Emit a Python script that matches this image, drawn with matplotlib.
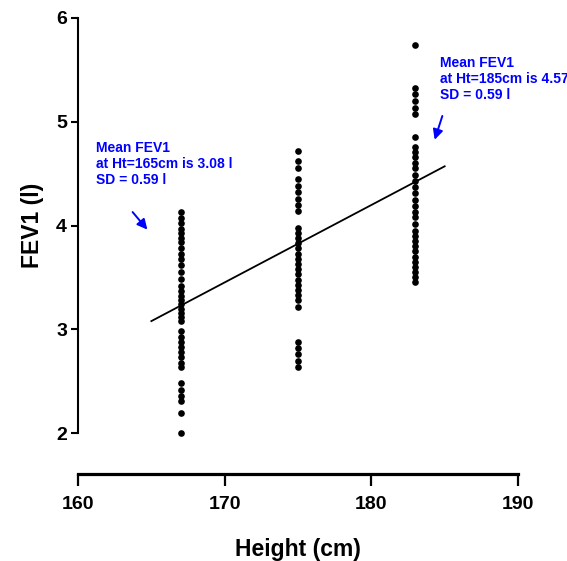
import matplotlib.pyplot as plt

plt.rcParams['font.family'] = ['Liberation Sans', 'DejaVu Sans']
plt.rcParams['font.weight'] = 'bold'

# heights of the three groups
heights = [167, 175, 183]

# FEV1 readings (l) per height group
fev_167 = [4.13, 4.07, 4.02, 3.97, 3.93, 3.88, 3.84, 3.78, 3.73, 3.68, 3.62, 3.55,
           3.49, 3.42, 3.37, 3.32, 3.28, 3.24, 3.20, 3.16, 3.12, 3.08, 2.98, 2.93,
           2.88, 2.83, 2.78, 2.73, 2.68, 2.64, 2.48, 2.42, 2.36, 2.31, 2.20, 2.00]
fev_175 = [4.72, 4.62, 4.55, 4.45, 4.38, 4.32, 4.26, 4.20, 4.14, 3.98, 3.93, 3.88,
           3.83, 3.78, 3.73, 3.68, 3.63, 3.58, 3.53, 3.48, 3.43, 3.38, 3.33, 3.28,
           3.22, 2.88, 2.82, 2.76, 2.70, 2.64]
fev_183 = [5.74, 5.32, 5.27, 5.20, 5.13, 5.07, 4.85, 4.76, 4.71, 4.66, 4.60, 4.55,
           4.49, 4.43, 4.37, 4.31, 4.25, 4.19, 4.13, 4.08, 4.01, 3.95, 3.90, 3.85,
           3.80, 3.75, 3.70, 3.65, 3.60, 3.55, 3.50, 3.46]
groups = [fev_167, fev_175, fev_183]

# regression line end points
line_x = [165, 185]
line_y = [3.08, 4.57]

x_ticks = [160, 170, 180, 190]
y_ticks = [2, 3, 4, 5, 6]

fig = plt.figure(figsize=(5.67, 5.61), dpi=100)
ax = fig.add_axes([0.1376, 0.2276, 0.776, 0.7408])

for h, vals in zip(heights, groups):
    ax.plot([h] * len(vals), vals, linestyle='none', marker='o', ms=4.8,
            color='black', markeredgewidth=0, clip_on=False)

ax.plot(line_x, line_y, color='black', lw=1.3)

ax.set_xlim(160, 190)
ax.set_ylim(2, 6)
ax.set_xticks(x_ticks)
ax.set_yticks(y_ticks)

# prism style axes
ax.spines['top'].set_visible(False)
ax.spines['right'].set_visible(False)
ax.spines['left'].set_linewidth(1.5)
ax.spines['bottom'].set_linewidth(2.3)
ax.spines['bottom'].set_position(('outward', 29.3))
ax.tick_params(axis='x', length=8.5, width=1.6, pad=7, labelsize=14)
ax.tick_params(axis='y', length=5, width=1.5, pad=3, labelsize=14)

ax.set_xlabel('Height (cm)', fontsize=16.5, fontweight='bold', labelpad=18)
ax.set_ylabel('FEV1 (l)', fontsize=16.5, fontweight='bold', labelpad=9)

# annotations
ax.text(161.24, 4.81, 'Mean FEV1\nat Ht=165cm is 3.08 l\nSD = 0.59 l',
        color='blue', fontsize=10, fontweight='bold', va='top', ha='left',
        linespacing=1.17, clip_on=False)
ax.annotate('', xy=(164.85, 3.94), xytext=(163.6, 4.15),
            arrowprops=dict(arrowstyle='-|>', color='blue', lw=1.4,
                            mutation_scale=15))
ax.text(184.65, 5.63, 'Mean FEV1\nat Ht=185cm is 4.57 l\nSD = 0.59 l',
        color='blue', fontsize=10, fontweight='bold', va='top', ha='left',
        linespacing=1.17, clip_on=False)
ax.annotate('', xy=(184.26, 4.80), xytext=(184.9, 5.08),
            arrowprops=dict(arrowstyle='-|>', color='blue', lw=1.4,
                            mutation_scale=15))

fig.savefig('out.png', dpi=100)
